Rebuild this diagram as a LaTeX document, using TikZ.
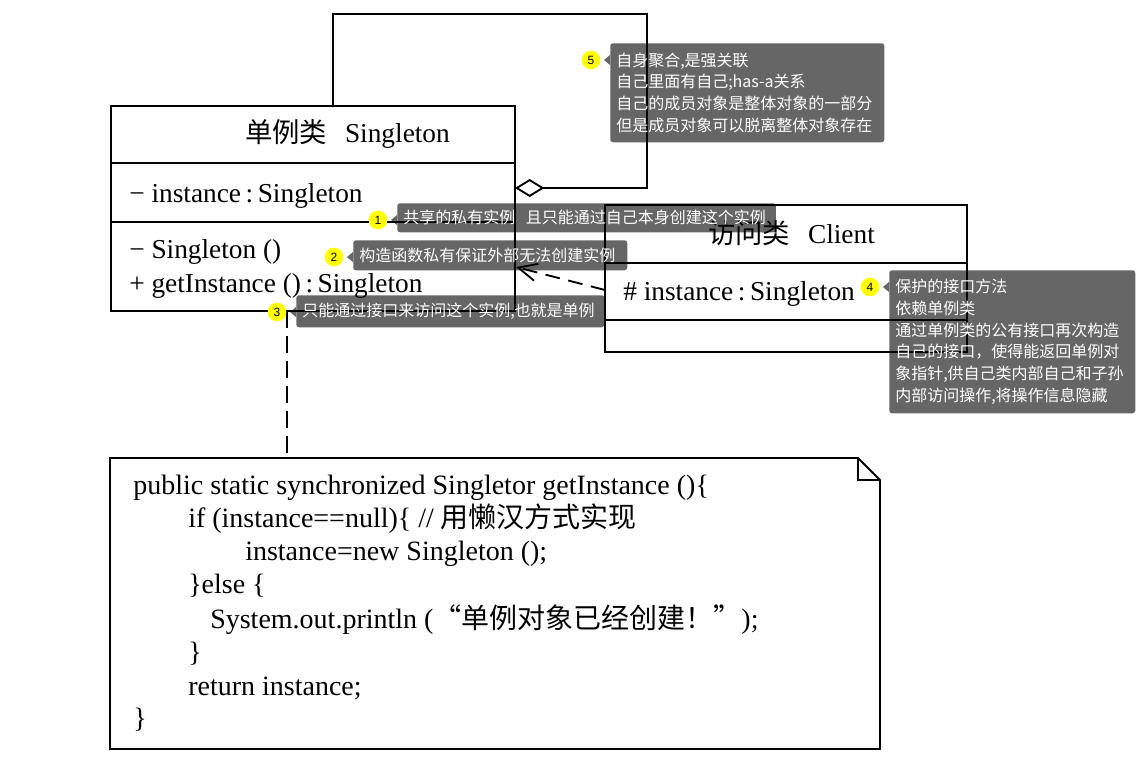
\documentclass[tikz,border=0pt]{standalone}
\usepackage{fontspec}
\setmainfont{Liberation Serif}
\newfontfamily\cjk{Noto Sans CJK SC}
\newfontfamily\numfont{Liberation Sans}
\usetikzlibrary{arrows.meta,positioning,calc}

\definecolor{tipyellow}{RGB}{255,255,0}

\tikzset{
	umlline/.style={line width=1.4pt},
	umltext/.style={anchor=base west, inner sep=0pt, font=\fontsize{20.5pt}{24pt}\selectfont},
	codetext/.style={anchor=base west, inner sep=0pt, font=\fontsize{21pt}{25pt}\selectfont},
	annot/.style={anchor=north west, fill=black, fill opacity=0.6, text opacity=1, text=white,
		rounded corners=2pt, align=left, inner xsep=4.5pt, inner ysep=0pt,
		font=\cjk\fontsize{12pt}{16.3pt}\selectfont},
	badge/.style={circle, fill=tipyellow, minimum size=14pt, inner sep=0pt,
		font=\numfont\fontsize{9pt}{10pt}\selectfont},
	pointer/.style={fill=black, fill opacity=0.6},
}

\begin{document}
\begin{tikzpicture}[x=0.75pt,y=-0.75pt]
	%\draw[help lines] (0,0) grid (1136,769);
	\useasboundingbox (0,0) rectangle (1136,769);

	% class Singleton
	\draw[umlline] (111,106) rectangle (515,311);
	\draw[umlline] (111,163) -- (515,163);
	\draw[umlline] (111,222) -- (515,222);
	\node[umltext] (sgtitle) at (245,142) {{\cjk 单例类}\hspace{0.65em}Singleton};
	\node[umltext] (sgattr) at (129,202) {− instance\,:\,Singleton};
	\node[umltext] (sgctor) at (129,258) {− Singleton ()};
	\node[umltext] (sgget) at (129,292) {+ getInstance ()\,:\,Singleton};
	\coordinate (sgtop) at (333,106);
	\coordinate (sgagg) at (515,188);
	\coordinate (sgdep) at (516,267);
	\coordinate (sgbot) at (287,311);

	% class Client
	\draw[umlline] (605,205) rectangle (967,352);
	\draw[umlline] (605,263) -- (967,263);
	\draw[umlline] (605,320) -- (967,320);
	\node[umltext] (cltitle) at (708,243) {{\cjk 访问类}\hspace{0.65em}Client};
	\node[umltext] (clattr) at (623,300) {\# instance\,:\,Singleton};
	\coordinate (cldep) at (605,290);

	% note with folded corner
	\draw[umlline] (110,458) -- (858,458) -- (880,480) -- (880,749) -- (110,749) -- cycle;
	\draw[umlline] (858,458) -- (858,480) -- (880,480);
	\coordinate (notetop) at (287,458);
	\node[codetext] (c1) at (133,494) {public static synchronized Singletor getInstance ()\{};
	\node[codetext] (c2) at (188,527) {if (instance==null)\{ // {\cjk 用懒汉方式实现}};
	\node[codetext] (c3) at (245,560) {instance=new Singleton ();};
	\node[codetext] (c4) at (188,593) {\}else \{};
	\node[codetext] (c5) at (210,628) {System.out.println ({\cjk “单例对象已经创建！”});};
	\node[codetext] (c6) at (188,661) {\}};
	\node[codetext] (c7) at (188,695) {return instance;};
	\node[codetext] (c8) at (133,727) {\}};

	% self aggregation
	\draw[umlline, -{Diamond[open,length=22pt,width=13.5pt]}] (sgtop) -- (333,14) -- (647,14) -- (647,188) -- (sgagg);
	% dependency Client -> Singleton
	\draw[umlline, dash pattern=on 11pt off 6.5pt, -{Straight Barb[length=14pt,width=13pt]}] (cldep) -- (sgdep);
	% note link
	\draw[umlline, dash pattern=on 12.75pt off 6pt] (sgbot) -- (notetop);

	% annotations
	\node[annot, text width=275pt, minimum height=21.75pt] (a1) at (397,203) {共享的私有实例\ \ 且只能通过自己本身创建这个实例};
	\node[annot, text width=196.5pt, minimum height=22.5pt] (a2) at (353,240) {构造函数私有保证外部无法创建实例};
	\node[annot, text width=222pt, minimum height=24pt] (a3) at (296,295) {只能通过接口来访问这个实例,也就是单例};
	\node[annot, text width=175.5pt, minimum height=107.25pt] (a4) at (889,270) {保护的接口方法\\依赖单例类\\通过单例类的公有接口再次构造\\自己的接口，使得能返回单例对\\象指针,供自己类内部自己和子孙\\内部访问操作,将操作信息隐藏};
	\node[annot, text width=196.5pt, minimum height=74.25pt] (a5) at (610,43) {自身聚合,是强关联\\自己里面有自己;has-a关系\\自己的成员对象是整体对象的一部分\\但是成员对象可以脱离整体对象存在};

	\foreach \a/\n in {a1/1,a2/2,a3/3,a4/4,a5/5}{
		\fill[pointer] ($(\a.north west)+(0,12)$) -- ++(-6,5) -- ++(6,5) -- cycle;
		\node[badge] (n\n) at ($(\a.north west)+(-19,17)$) {\n};
	}
\end{tikzpicture}
\end{document}
